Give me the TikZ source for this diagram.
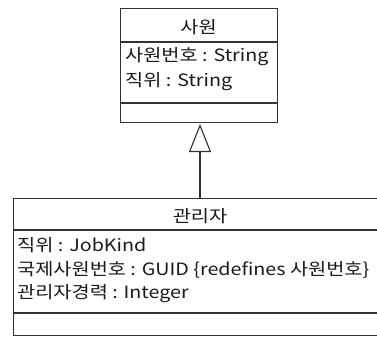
\documentclass[tikz,border=0pt]{standalone}
\usepackage{fontspec}
\setmainfont[FakeStretch=1.16]{Noto Sans CJK KR}
\usetikzlibrary{arrows.meta}
\definecolor{linec}{HTML}{333333}
\definecolor{textc}{HTML}{1A1A1A}
\tikzset{
  classbox/.style={draw=linec, line width=1.3pt, rectangle, inner sep=0pt, anchor=north west},
  sepline/.style={draw=linec, line width=1.1pt},
  clname/.style={font=\fontsize{17}{20}\selectfont, text=textc, inner sep=0pt},
  attr/.style={font=\fontsize{17}{20}\selectfont, text=textc, inner sep=0pt, anchor=west},
  gen/.style={draw=linec, line width=1.1pt, -{Triangle[open, length=28pt, width=22pt, line width=1.1pt]}}
}
\begin{document}
\begin{tikzpicture}[x=1pt, y=-1pt]
\clip (0,0) rectangle (377,338);
\fill[white] (0,0) rectangle (377,338);
% top class
\node[classbox, minimum width=157pt, minimum height=114pt] (sup) at (120,8) {};
\draw[sepline] (120,42) coordinate (s1a) -- (277,42) coordinate (s1b);
\draw[sepline] (120,103) coordinate (s2a) -- (277,103) coordinate (s2b);
\node[clname] (supname) at (198.5,27) {사원};
\node[attr] (supa1) at (125,57) {사원번호 : String};
\node[attr] (supa2) at (125,82) {직위 : String};
% bottom class
\node[classbox, minimum width=380pt, minimum height=137pt] (sub) at (13,198) {};
\draw[sepline] (13,230) coordinate (b1a) -- (400,230) coordinate (b1b);
\draw[sepline] (13,313) coordinate (b2a) -- (400,313) coordinate (b2b);
\node[clname] (subname) at (200,216) {관리자};
\node[attr] (suba1) at (17,245) {직위 : JobKind};
\node[attr] (suba2) at (17,270) {국제사원번호 : GUID \{redefines 사원번호\}};
\node[attr] (suba3) at (17,294) {관리자경력 : Integer};
% generalization
\coordinate (gtop) at (200,124);
\coordinate (gbot) at (200,198);
\draw[gen] (gbot) -- (gtop);
\end{tikzpicture}
\end{document}
